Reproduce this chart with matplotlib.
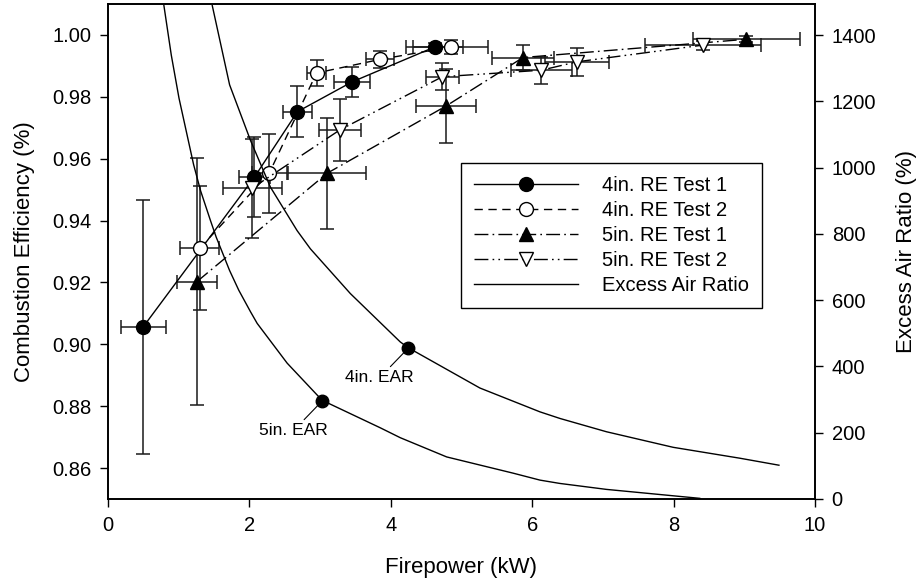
import matplotlib
matplotlib.use('Agg')
import matplotlib.pyplot as plt
from matplotlib.ticker import FormatStrFormatter

plt.rcParams['font.family'] = ['Liberation Sans', 'DejaVu Sans']

# 4in. RE Test 1: firepower (kW), combustion efficiency, error bars
fp_4in_t1 = [0.50, 2.07, 2.68, 3.45, 4.62]
ce_4in_t1 = [0.9057, 0.9540, 0.9752, 0.9848, 0.9961]
xerr_4in_t1 = [0.32, 0.22, 0.21, 0.26, 0.40]
yerr_4in_t1 = [0.041, 0.013, 0.0083, 0.0048, 0.0012]

# 4in. RE Test 2
fp_4in_t2 = [1.30, 2.28, 2.95, 3.85, 4.85]
ce_4in_t2 = [0.9311, 0.9553, 0.9877, 0.9921, 0.9961]
xerr_4in_t2 = [0.275, 0.25, 0.14, 0.20, 0.53]
yerr_4in_t2 = [0.020, 0.0128, 0.0043, 0.0028, 0.0024]

# 5in. RE Test 1
fp_5in_t1 = [1.26, 3.10, 4.78, 5.87, 9.03]
ce_5in_t1 = [0.9203, 0.9553, 0.9770, 0.9927, 0.9986]
xerr_5in_t1 = [0.28, 0.55, 0.42, 0.44, 0.76]
yerr_5in_t1 = [0.040, 0.018, 0.012, 0.004, 0.001]

# 5in. RE Test 2
fp_5in_t2 = [2.04, 3.28, 4.73, 6.13, 6.63, 8.41]
ce_5in_t2 = [0.9505, 0.9693, 0.9865, 0.9886, 0.9913, 0.9967]
xerr_5in_t2 = [0.42, 0.30, 0.23, 0.43, 0.45, 0.82]
yerr_5in_t2 = [0.016, 0.010, 0.0043, 0.0043, 0.0045, 0.0015]

# excess air ratio curves (%)
ear_4in_fp = [1.475, 1.72, 2.016, 2.298, 2.675, 2.863, 3.428, 4.134, 4.251, 5.26,
              6.11, 6.394, 7.05, 7.994, 8.94, 9.49]
ear_4in = [1489, 1250, 1082, 941, 810, 755, 620, 474, 456, 335,
           263, 243, 203, 156, 123, 102]
ear_5in_fp = [0.791, 0.895, 1.004, 1.21, 1.31, 1.45, 1.531, 1.616, 1.719, 1.850, 2.016,
              2.11, 2.534, 3.028, 3.85, 4.134, 4.79, 5.73, 6.11, 6.39, 7.05, 8.37]
ear_5in = [1489, 1340, 1210, 1010, 930, 840, 790, 745, 690, 630, 565,
           530, 410, 298, 215, 185, 127, 78, 57, 47, 29, 2]

# labelled points on the curves
ear_pts_fp = [4.25, 3.03]
ear_pts = [456, 296]
ear_pts_labels = ['4in. EAR', '5in. EAR']

fig = plt.figure(figsize=(9.2, 5.84), dpi=100)
ax = fig.add_axes([108 / 920, 1 - 499 / 584, 707 / 920, 495 / 584])
ax2 = ax.twinx()

series = [
    (fp_4in_t1, ce_4in_t1, xerr_4in_t1, yerr_4in_t1, '4in. RE Test 1', 'o', 'black', '-'),
    (fp_4in_t2, ce_4in_t2, xerr_4in_t2, yerr_4in_t2, '4in. RE Test 2', 'o', 'white', (0, (6, 4))),
    (fp_5in_t1, ce_5in_t1, xerr_5in_t1, yerr_5in_t1, '5in. RE Test 1', '^', 'black', (0, (10, 3, 1.2, 3))),
    (fp_5in_t2, ce_5in_t2, xerr_5in_t2, yerr_5in_t2, '5in. RE Test 2', 'v', 'white', (0, (10, 3, 1.2, 3, 1.2, 3))),
]

handles = []
for x, y, xe, ye, label, mk, fc, ls in series:
    ax.errorbar(x, y, xerr=xe, yerr=ye, fmt='none', ecolor='#1a1a1a',
                elinewidth=1.1, capsize=5.3, capthick=1.1, zorder=2)
    h, = ax.plot(x, y, linestyle=ls, color='black', linewidth=1.0, marker=mk,
                 markersize=10 if mk == 'o' else 10.5, markerfacecolor=fc,
                 markeredgecolor='black', markeredgewidth=1.0, label=label, zorder=3)
    handles.append(h)

h_ear, = ax2.plot(ear_4in_fp, ear_4in, color='black', linewidth=1.0, label='Excess Air Ratio')
ax2.plot(ear_5in_fp, ear_5in, color='black', linewidth=1.0)
ax2.plot(ear_pts_fp, ear_pts, 'o', color='black', markersize=9)
for xp, yp, lab in zip(ear_pts_fp, ear_pts, ear_pts_labels):
    ax2.annotate(lab, xy=(xp, yp), xytext=(-29, -30), textcoords='offset pixels',
                 ha='center', va='center', fontsize=12.5,
                 arrowprops=dict(arrowstyle='-', color='black', lw=0.8,
                                 shrinkA=1, shrinkB=5))
handles.append(h_ear)

ax.set_xlim(0, 10)
ax.set_xticks([0, 2, 4, 6, 8, 10])
ax.set_ylim(0.85, 1.01)
ax.set_yticks([0.86, 0.88, 0.90, 0.92, 0.94, 0.96, 0.98, 1.00])
ax.yaxis.set_major_formatter(FormatStrFormatter('%.2f'))
ax2.set_ylim(0, 1494)
ax2.set_yticks([0, 200, 400, 600, 800, 1000, 1200, 1400])

for a in (ax, ax2):
    a.tick_params(direction='out', length=6, width=1.0, labelsize=14.5, pad=6)
    for s in a.spines.values():
        s.set_linewidth(1.2)

ax.set_xlabel('Firepower (kW)', fontsize=16, labelpad=16)
ax.set_ylabel('Combustion Efficiency (%)', fontsize=16, labelpad=12)
ax2.set_ylabel('Excess Air Ratio (%)', fontsize=16, labelpad=14)

leg = ax.legend(handles=handles, loc='upper left', bbox_to_anchor=(0.499, 0.679),
                borderaxespad=0, fontsize=14.5, handlelength=5.16, numpoints=1,
                labelspacing=0.3, borderpad=0.65, handletextpad=1.2,
                fancybox=False, framealpha=1, edgecolor='black')
leg.get_frame().set_linewidth(1.0)
leg.set_zorder(5)

fig.savefig('out.png', dpi=100)
